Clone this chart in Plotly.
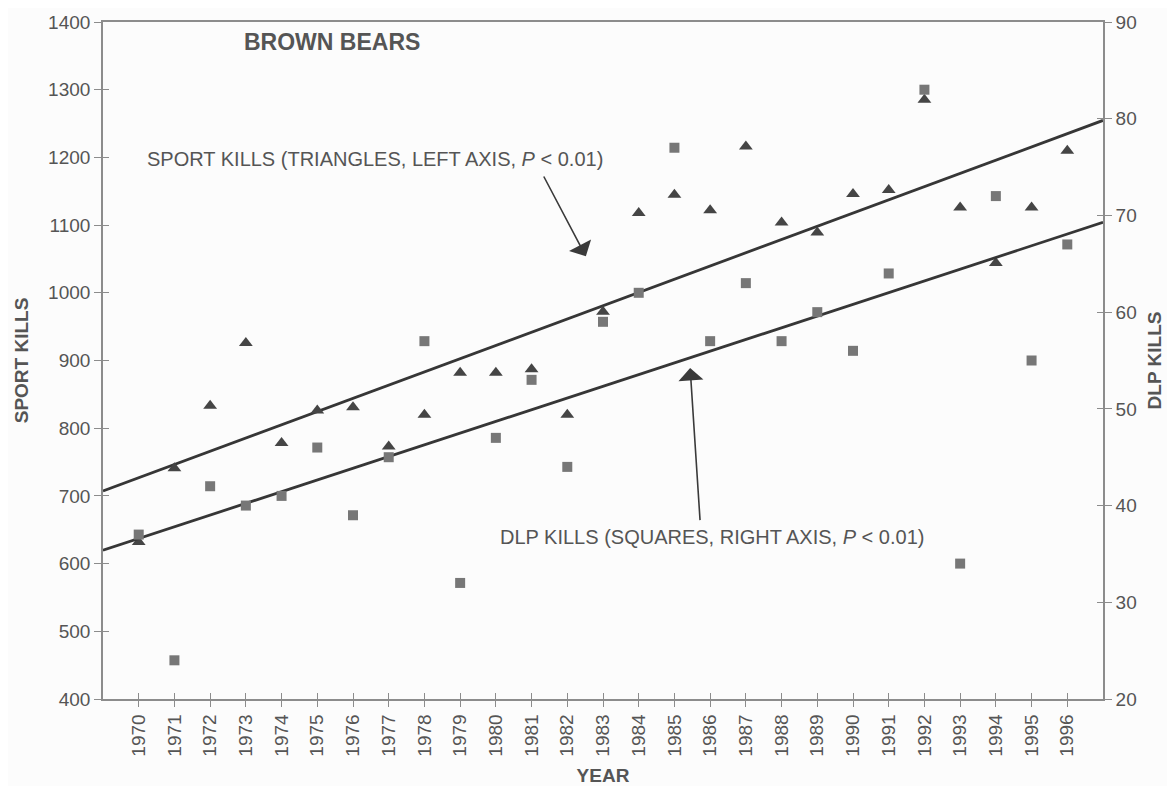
import numpy as np
import plotly.graph_objects as go

# ---------------- data ----------------
years = [1970, 1971, 1972, 1973, 1974, 1975, 1976, 1977, 1978, 1979,
         1980, 1981, 1982, 1983, 1984, 1985, 1986, 1987, 1988, 1989,
         1990, 1991, 1992, 1993, 1994, 1995, 1996]
sport_kills = [632, 741, 833, 926, 778, 826, 831, 773, 820, 882,
               882, 887, 820, 972, 1118, 1145, 1122, 1216, 1104, 1089,
               1146, 1152, 1285, 1126, 1044, 1126, 1210]
dlp_kills = [37, 24, 42, 40, 41, 46, 39, 45, 57, 32,
             47, 53, 44, 59, 62, 77, 57, 63, 57, 60,
             56, 64, 83, 34, 72, 55, 67]
year_ticks = [str(y) for y in years]
left_ticks = [400, 500, 600, 700, 800, 900, 1000, 1100, 1200, 1300, 1400]
right_ticks = [20, 30, 40, 50, 60, 70, 80, 90]
x_range = [1969, 1997]

# least-squares trend lines drawn across the whole x range
sport_fit = np.polyfit(years, sport_kills, 1)
dlp_fit = np.polyfit(years, dlp_kills, 1)
trend_x = np.array(x_range, dtype=float)
sport_trend = np.polyval(sport_fit, trend_x)
dlp_trend = np.polyval(dlp_fit, trend_x)

FONT = "Liberation Sans, Arial, sans-serif"
TXT = "#555555"
AX = "#8c8c8c"

fig = go.Figure()

fig.add_trace(go.Scatter(x=trend_x, y=sport_trend, mode="lines",
                         line=dict(color="#363636", width=2.8),
                         yaxis="y", showlegend=False, hoverinfo="skip"))
fig.add_trace(go.Scatter(x=trend_x, y=dlp_trend, mode="lines",
                         line=dict(color="#363636", width=2.8),
                         yaxis="y2", showlegend=False, hoverinfo="skip"))
fig.add_trace(go.Scatter(x=years, y=dlp_kills, mode="markers",
                         marker=dict(symbol="square", size=10, color="#777777"),
                         yaxis="y2", showlegend=False, name="DLP kills"))
fig.add_trace(go.Scatter(x=years, y=sport_kills, mode="markers",
                         marker=dict(symbol="triangle-up", size=12, color="#454545"),
                         yaxis="y", showlegend=False, name="Sport kills"))
# empty traces carrying the overlay axes used for inner tick halves
fig.add_trace(go.Scatter(x=[], y=[], xaxis="x2", yaxis="y3", showlegend=False))
fig.add_trace(go.Scatter(x=[], y=[], xaxis="x2", yaxis="y4", showlegend=False))

tickfont = dict(family=FONT, size=19, color=TXT)
titlefont = dict(family=FONT, size=19, color=TXT)

fig.update_layout(
    width=1167, height=778,
    margin=dict(l=95, r=72, t=14, b=87, autoexpand=False),
    paper_bgcolor="#fcfcfc", plot_bgcolor="#fcfcfc",
    font=dict(family=FONT, color=TXT),
    xaxis=dict(range=x_range, tickmode="array", tickvals=years, ticktext=year_ticks,
               tickangle=-90, ticks="outside", ticklen=6, tickwidth=1, tickcolor=AX,
               showline=True, linecolor=AX, linewidth=1.6, mirror=True,
               showgrid=False, zeroline=False, tickfont=tickfont, automargin=False,
               title=dict(text="<b>YEAR</b>", font=titlefont, standoff=16)),
    xaxis2=dict(range=x_range, overlaying="x", anchor="y", side="bottom",
                tickmode="array", tickvals=years, ticks="inside", ticklen=6,
                tickcolor=AX, showticklabels=False, showline=False, automargin=False,
                showgrid=False, zeroline=False),
    yaxis=dict(range=[400, 1400], tickmode="array", tickvals=left_ticks,
               ticks="outside", ticklen=7, tickcolor=AX, showline=True,
               linecolor=AX, linewidth=1.6, showgrid=False, zeroline=False,
               tickfont=tickfont, automargin=False,
               title=dict(text="<b>SPORT KILLS</b>", font=titlefont, standoff=14)),
    yaxis2=dict(range=[20, 90], tickmode="array", tickvals=right_ticks,
                overlaying="y", side="right", anchor="x",
                ticks="outside", ticklen=7, tickcolor=AX, showline=True,
                linecolor=AX, linewidth=1.6, showgrid=False, zeroline=False,
                tickfont=tickfont, automargin=False,
                title=dict(text="<b>DLP KILLS</b>", font=titlefont, standoff=12)),
    yaxis3=dict(range=[400, 1400], overlaying="y", side="left", anchor="x2",
                tickmode="array", tickvals=left_ticks, ticks="inside", ticklen=6,
                tickcolor=AX, showticklabels=False, showline=False, automargin=False,
                showgrid=False, zeroline=False),
    yaxis4=dict(range=[20, 90], overlaying="y", side="right", anchor="x2",
                tickmode="array", tickvals=right_ticks, ticks="inside", ticklen=6,
                tickcolor=AX, showticklabels=False, showline=False, automargin=False,
                showgrid=False, zeroline=False),
)

fig.add_annotation(x=1972.9, y=1370, xref="x", yref="y", text="<b>BROWN BEARS</b>",
                   showarrow=False, xanchor="left", yanchor="middle",
                   font=dict(family=FONT, size=23, color=TXT))
fig.add_annotation(x=1970.18, y=1198, xref="x", yref="y",
                   text="SPORT KILLS (TRIANGLES, LEFT AXIS, <i>P</i> &lt; 0.01)",
                   showarrow=False, xanchor="left", yanchor="middle",
                   font=dict(family=FONT, size=20, color=TXT))
fig.add_annotation(x=1980.06, y=640, xref="x", yref="y",
                   text="DLP KILLS (SQUARES, RIGHT AXIS, <i>P</i> &lt; 0.01)",
                   showarrow=False, xanchor="left", yanchor="middle",
                   font=dict(family=FONT, size=20, color=TXT))
# arrows
fig.add_annotation(x=1982.52, y=1054, ax=1981.32, ay=1174, xref="x", yref="y",
                   axref="x", ayref="y", text="", showarrow=True,
                   arrowhead=1, arrowsize=2.6, arrowwidth=1.6, arrowcolor="#3a3a3a")
fig.add_annotation(x=1985.44, y=889, ax=1985.72, ay=662, xref="x", yref="y",
                   axref="x", ayref="y", text="", showarrow=True,
                   arrowhead=1, arrowsize=2.6, arrowwidth=1.6, arrowcolor="#3a3a3a")

fig.write_html("out.html")
